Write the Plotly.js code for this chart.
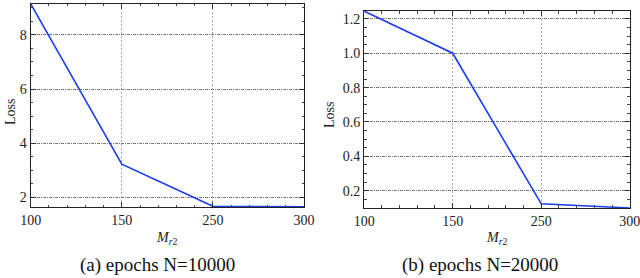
<!DOCTYPE html>
<html><head><meta charset="utf-8">
<script src="https://cdn.plot.ly/plotly-3.0.1.min.js"></script>
<style>html,body{margin:0;padding:0;background:#fff}#c{width:640px;height:278px}</style>
</head><body><div id="c"></div>
<script>
const categories = ["100", "150", "250", "300"];
const lossA = [9.15, 3.22, 1.66, 1.64];
const lossB = [1.245, 1.0, 0.124, 0.10];
const captionA = "(a) epochs N=10000";
const captionB = "(b) epochs N=20000";

const xIdx = categories.map((c, i) => i);
const F = "Liberation Serif";
const lineColor = "#1a3cf5";

const traces = [
  {x: xIdx, y: lossA, xaxis: "x", yaxis: "y", mode: "lines", line: {color: lineColor, width: 1.6}, hoverinfo: "skip"},
  {x: xIdx, y: lossB, xaxis: "x2", yaxis: "y2", mode: "lines", line: {color: lineColor, width: 1.6}, hoverinfo: "skip"}
];

function xaxis(domain, anchor) {
  return {
    domain: domain, anchor: anchor, range: [0, 3],
    tickmode: "array", tickvals: xIdx, ticktext: categories,
    ticks: "inside", ticklen: 5, tickcolor: "#333",
    showline: true, linecolor: "#222", linewidth: 1.2, mirror: "allticks",
    showgrid: true, gridcolor: "#aaa", griddash: "2px,2px", gridwidth: 1,
    zeroline: false, tickfont: {family: F, size: 14, color: "#222"},
    ticklabeloverflow: "allow",
    minor: {dtick: 0.2, tick0: 0, ticks: "inside", ticklen: 2.5, tickcolor: "#444", showgrid: false},
    fixedrange: true
  };
}
function yaxis(domain, anchor, range, dtick, minor, fmt) {
  return {
    domain: domain, anchor: anchor, range: range,
    dtick: dtick, tick0: 0, tickformat: fmt,
    ticks: "inside", ticklen: 5, tickcolor: "#333",
    showline: true, linecolor: "#222", linewidth: 1.2, mirror: "allticks",
    showgrid: true, gridcolor: "#777", griddash: "3px,1px,1px,1px", gridwidth: 1,
    zeroline: false, tickfont: {family: F, size: 14, color: "#222"},
    ticklabeloverflow: "allow",
    minor: {dtick: minor, ticks: "inside", ticklen: 2.5, tickcolor: "#444", showgrid: false},
    fixedrange: true
  };
}

const layout = {
  width: 640, height: 278,
  font: {family: F, size: 14, color: "#222"},
  margin: {l: 0, r: 0, t: 0, b: 0},
  paper_bgcolor: "#fff", plot_bgcolor: "#fff",
  showlegend: false,
  xaxis: xaxis([0.048, 0.475], "y"),
  yaxis: yaxis([0.255, 0.986], "x", [1.63, 9.15], 2, 0.5, "d"),
  xaxis2: xaxis([0.569, 0.984], "y2"),
  yaxis2: yaxis([0.252, 0.960], "x2", [0.1, 1.245], 0.2, 0.05, ".1f"),
  annotations: [
    {text: "Loss", xref: "paper", yref: "paper", x: 11/640, y: 1-112/278, textangle: -90, showarrow: false, font: {family: F, size: 14, color: "#222"}, xanchor: "center", yanchor: "middle"},
    {text: "Loss", xref: "paper", yref: "paper", x: 329/640, y: 1-115/278, textangle: -90, showarrow: false, font: {family: F, size: 14, color: "#222"}, xanchor: "center", yanchor: "middle"},
    {text: "<i>M</i><sub><i>r</i>2</sub>", xref: "paper", yref: "paper", x: 167/640, y: 1-238/278, showarrow: false, font: {family: F, size: 14, color: "#222"}, xanchor: "center", yanchor: "middle"},
    {text: "<i>M</i><sub><i>r</i>2</sub>", xref: "paper", yref: "paper", x: 497/640, y: 1-238/278, showarrow: false, font: {family: F, size: 14, color: "#222"}, xanchor: "center", yanchor: "middle"},
    {text: captionA, xref: "paper", yref: "paper", x: 157/640, y: 1-265/278, showarrow: false, font: {family: F, size: 19, color: "#111"}, xanchor: "center", yanchor: "middle"},
    {text: captionB, xref: "paper", yref: "paper", x: 480/640, y: 1-265/278, showarrow: false, font: {family: F, size: 19, color: "#111"}, xanchor: "center", yanchor: "middle"}
  ]
};

Plotly.newPlot("c", traces, layout, {displayModeBar: false, staticPlot: true});
</script></body></html>
